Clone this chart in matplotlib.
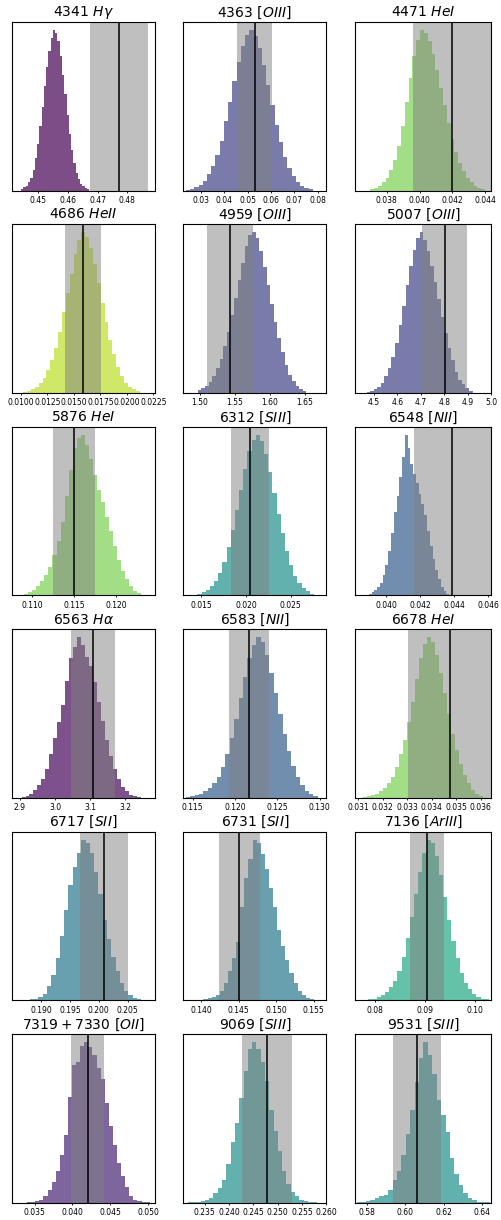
import numpy as np
import matplotlib.pyplot as plt

# line labels (titles)
titles = ['4341 $H\\gamma$', '4363 $[OIII]$', '4471 $HeI$',
          '4686 $HeII$', '4959 $[OIII]$', '5007 $[OIII]$',
          '5876 $HeI$', '6312 $[SIII]$', '6548 $[NII]$',
          '6563 $H\\alpha$', '6583 $[NII]$', '6678 $HeI$',
          '6717 $[SII]$', '6731 $[SII]$', '7136 $[ArIII]$',
          '$7319 + 7330$ $[OII]$', '9069 $[SIII]$', '9531 $[SIII]$']

# histogram range of the sampled fluxes (30 bins each)
hist_lo = [0.4442, 0.0235, 0.0370, 0.0102, 1.497, 4.470,
           0.1086, 0.0141, 0.0388, 2.905, 0.1142, 0.0312,
           0.1866, 0.1392, 0.0778, 0.0340, 0.2315, 0.5750]
hist_hi = [0.4672, 0.0779, 0.0440, 0.0212, 1.652, 4.920,
           0.1230, 0.0281, 0.0437, 3.245, 0.1298, 0.0361,
           0.2088, 0.1556, 0.1028, 0.0502, 0.2580, 0.6440]

# bin heights (relative counts)
counts = [
    [1, 2, 3, 5, 8, 13, 20, 29, 40, 52, 65, 77, 87, 95, 100, 98, 93, 84, 72, 60, 47, 35, 25, 17, 11, 7, 4, 2.5, 1.4, 0.7],
    [0.5, 1, 2, 3.5, 6, 10, 15, 22, 31, 43, 55, 68, 80, 90, 97, 100, 96, 89, 78, 66, 53, 41, 30, 21, 14, 9, 5, 3, 1.5, 0.8],
    [0.7, 1.5, 3, 5, 8, 13, 19, 28, 40, 55, 70, 84, 94, 100, 98, 93, 85, 75, 64, 53, 42, 32, 24, 17, 12, 8, 5, 3, 1.5, 0.7],
    [0.5, 1, 2, 3.5, 6, 9, 14, 20, 28, 38, 50, 62, 74, 86, 95, 100, 97, 90, 80, 68, 56, 44, 33, 24, 16, 10, 6, 3.5, 2, 1],
    [1.5, 2.5, 4, 6.5, 10, 15, 21, 29, 38, 48, 59, 70, 81, 91, 98, 100, 96, 88, 78, 67, 55, 44, 34, 25, 17, 11, 7, 4, 2, 1],
    [0.5, 1, 2, 3.5, 6, 10, 15, 22, 31, 42, 54, 67, 79, 89, 96, 100, 95, 88, 79, 69, 58, 47, 37, 28, 20, 13, 8, 5, 2.5, 1],
    [0.5, 1, 2, 3.5, 6, 9, 13, 18, 25, 34, 46, 62, 78, 92, 98, 100, 94, 85, 75, 66, 58, 49, 40, 31, 22, 15, 10, 6, 3, 1.5],
    [0.5, 1, 2, 3.5, 6, 9, 14, 21, 30, 41, 53, 66, 79, 90, 97, 100, 96, 88, 77, 64, 51, 39, 28, 19, 12, 7.5, 4.5, 2.5, 1.2, 0.6],
    [0.5, 1, 2, 3.5, 5.5, 8, 13, 19, 28, 39, 52, 62, 74, 86, 100, 92, 82, 76, 70, 63, 57, 50, 40, 31, 23, 16, 10, 5, 2.5, 1],
    [0.5, 1, 2.5, 5, 8, 12, 18, 27, 37, 47, 58, 73, 87, 94, 100, 95, 88, 82, 72, 60, 48, 36, 26, 18, 12, 7, 4, 2, 1.2, 0.6],
    [0.5, 1, 1.5, 2.5, 4, 6, 9, 13, 19, 27, 37, 49, 62, 75, 87, 95, 100, 97, 89, 78, 65, 52, 40, 29, 20, 13, 8, 4.5, 2.5, 1.2],
    [0.5, 1, 1.5, 2.5, 4, 6, 9, 13, 19, 27, 36, 47, 60, 74, 87, 96, 100, 97, 89, 78, 65, 52, 40, 30, 21, 14, 9, 5, 2.5, 1],
    [0.2, 0.4, 0.6, 1, 2, 4, 9, 16, 26, 40, 56, 72, 83, 92, 100, 98, 92, 80, 66, 50, 38, 27, 18, 11, 6, 3, 1.5, 0.8, 0.4, 0.2],
    [0.2, 0.4, 0.8, 1.2, 2, 3.5, 6, 11, 18, 26, 36, 58, 76, 88, 100, 98, 91, 82, 70, 58, 44, 34, 25, 17, 11, 6, 3.5, 1.5, 0.8, 0.4],
    [0.3, 0.6, 1, 2, 3, 5, 8, 12, 18, 27, 39, 52, 66, 80, 92, 100, 98, 90, 78, 64, 50, 37, 26, 17, 11, 7, 4, 2, 1, 0.5],
    [0.3, 0.6, 1.2, 2, 4, 8, 13, 20, 30, 42, 66, 86, 88, 98, 100, 97, 92, 84, 77, 62, 48, 36, 25, 17, 10, 4, 2, 1.2, 0.6, 0.3],
    [0.2, 0.4, 0.6, 1, 2, 3, 6, 9, 14, 24, 38, 50, 65, 82, 96, 100, 96, 88, 76, 58, 45, 32, 20, 12, 7, 4, 2, 1, 0.5, 0.2],
    [0.4, 0.7, 1, 2, 3, 4, 5, 8, 14, 20, 30, 43, 58, 75, 90, 100, 92, 80, 64, 55, 44, 28, 18, 11, 6, 3, 1.6, 0.8, 0.4, 0.2],
]

# observed value and its error (black line and grey band)
obs_val = [0.4773, 0.0530, 0.0420, 0.0159, 1.5434, 4.801,
           0.1150, 0.02045, 0.04388, 3.108, 0.1217, 0.03474,
           0.2009, 0.1451, 0.0904, 0.0420, 0.2478, 0.6062]
obs_err = [0.0099, 0.0076, 0.0024, 0.0017, 0.0329, 0.094,
           0.00245, 0.00217, 0.00228, 0.0625, 0.00235, 0.0017,
           0.0041, 0.00275, 0.0035, 0.0022, 0.00505, 0.0124]

x_lims = [(0.4411, 0.4894), (0.0224, 0.0837), (0.03608, 0.04438),
          (0.00915, 0.02266), (1.4762, 1.6805), (4.421, 4.962),
          (0.10763, 0.12462), (0.01299, 0.02899), (0.03817, 0.04618),
          (2.878, 3.284), (0.1139, 0.1308), (0.03088, 0.03644),
          (0.1850, 0.2097), (0.1376, 0.1567), (0.0760, 0.1033),
          (0.03201, 0.0509), (0.2306, 0.2599), (0.5740, 0.6448)]

x_ticks = [[0.45, 0.46, 0.47, 0.48],
           [0.03, 0.04, 0.05, 0.06, 0.07, 0.08],
           [0.038, 0.040, 0.042, 0.044],
           [0.0100, 0.0125, 0.0150, 0.0175, 0.0200, 0.0225],
           [1.50, 1.55, 1.60, 1.65],
           [4.5, 4.6, 4.7, 4.8, 4.9, 5.0],
           [0.110, 0.115, 0.120],
           [0.015, 0.020, 0.025],
           [0.040, 0.042, 0.044, 0.046],
           [2.9, 3.0, 3.1, 3.2],
           [0.115, 0.120, 0.125, 0.130],
           [0.031, 0.032, 0.033, 0.034, 0.035, 0.036],
           [0.190, 0.195, 0.200, 0.205],
           [0.140, 0.145, 0.150, 0.155],
           [0.08, 0.09, 0.10],
           [0.035, 0.040, 0.045, 0.050],
           [0.235, 0.240, 0.245, 0.250, 0.255, 0.260],
           [0.58, 0.60, 0.62, 0.64]]

# position of each line's colour in viridis
cmap_pos = [0.0, 0.2, 0.8, 0.9, 0.2, 0.2, 0.8, 0.5, 0.3,
            0.02, 0.3, 0.8, 0.4, 0.4, 0.6, 0.1, 0.5, 0.5]

W, H = 502, 1220
fig = plt.figure(figsize=(W / 100, H / 100), dpi=100)

col_left = [12, 183.3, 355.3]
col_width = [143, 143, 136]
row_top = [22, 224, 427, 629.3, 831.7, 1034.3]
row_h = 168.5

cmap = plt.get_cmap('viridis')

for i in range(18):
    r, c = divmod(i, 3)
    ax = fig.add_axes([col_left[c] / W, 1 - (row_top[r] + row_h) / H,
                       col_width[c] / W, row_h / H])
    edges = np.linspace(hist_lo[i], hist_hi[i], len(counts[i]) + 1)
    mids = 0.5 * (edges[:-1] + edges[1:])
    ax.hist(mids, bins=edges, weights=counts[i], color=cmap(cmap_pos[i]), alpha=0.7)
    ax.axvspan(obs_val[i] - obs_err[i], obs_val[i] + obs_err[i], color='grey', alpha=0.5, lw=0)
    ax.axvline(obs_val[i], color='k', lw=1.1)
    ax.set_xlim(x_lims[i])
    ax.set_xticks(x_ticks[i])
    ax.set_yticks([])
    ax.tick_params(axis='x', labelsize=5.5, length=1.5, width=0.6, pad=2.5)
    for s in ax.spines.values():
        s.set_linewidth(0.8)
    ax.set_title(titles[i], fontsize=10, pad=4)

fig.savefig('out.png', dpi=100)
